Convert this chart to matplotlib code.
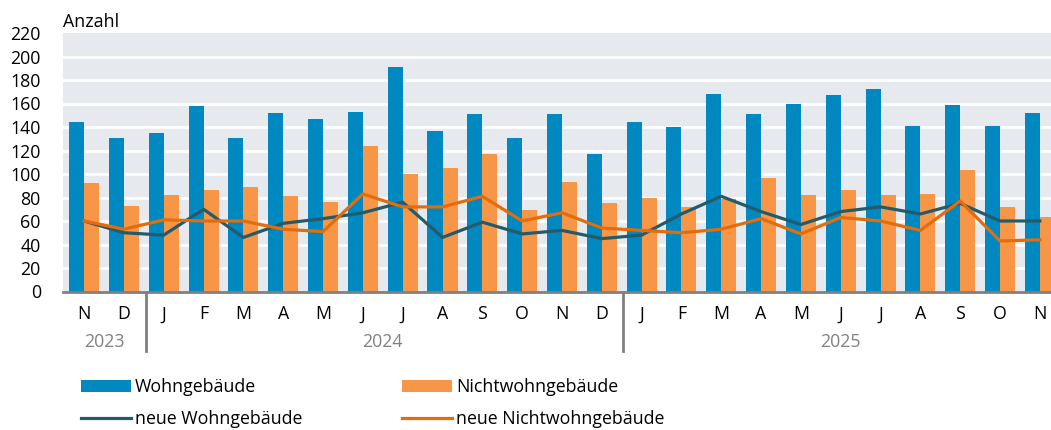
import matplotlib
matplotlib.use('Agg')
import matplotlib.pyplot as plt
import matplotlib.transforms as mtransforms
import numpy as np

plt.rcParams['font.family'] = ['Open Sans', 'DejaVu Sans']

# Daten
monate = ['N', 'D', 'J', 'F', 'M', 'A', 'M', 'J', 'J', 'A', 'S', 'O', 'N', 'D',
          'J', 'F', 'M', 'A', 'M', 'J', 'J', 'A', 'S', 'O', 'N']
jahre = ['2023', '2024', '2025']
jahr_start = [0, 2, 14]
jahr_ende = [1, 13, 24]

wohngebaeude = [144, 131, 135, 158, 131, 152, 147, 153, 191, 137, 151, 131, 151, 117,
                144, 140, 168, 151, 160, 167, 172, 141, 159, 141, 152]
nichtwohngebaeude = [92, 73, 82, 86, 89, 81, 76, 124, 100, 105, 117, 69, 93, 75,
                     80, 72, 79, 97, 82, 86, 82, 83, 103, 72, 63]
neue_wohngebaeude = [60, 50, 48, 70, 46, 58, 62, 67, 76, 46, 59, 49, 52, 45,
                     48, 66, 81, 68, 57, 68, 72, 66, 75, 60, 60]
neue_nichtwohngebaeude = [60, 53, 61, 60, 60, 53, 51, 83, 72, 72, 81, 60, 67, 54,
                          52, 50, 53, 62, 49, 63, 60, 52, 77, 43, 44]

blau = '#0088c0'
orange_hell = '#f79646'
teal = '#255a6b'
orange = '#e46c0a'
grau = '#808080'
fs = 12.8

fig = plt.figure(figsize=(10.51, 4.30), dpi=100)
ax = fig.add_axes([63 / 1051, 1 - 291.5 / 430, 1 - 63 / 1051, (291.5 - 33) / 430])
ax.set_facecolor('#e6eaee')

x = np.arange(len(monate))
b = 0.377
ax.bar(x - b / 2, wohngebaeude, width=b, color=blau, label='Wohngebäude', zorder=2)
ax.bar(x + b / 2, nichtwohngebaeude, width=b, color=orange_hell, label='Nichtwohngebäude', zorder=2)
ax.plot(x, neue_wohngebaeude, color=teal, lw=2.3, label='neue Wohngebäude', zorder=3)
ax.plot(x, neue_nichtwohngebaeude, color=orange, lw=2.3, label='neue Nichtwohngebäude', zorder=4)

ax.set_ylim(0, 220)
ax.set_xlim(-0.53, 24.28)
ax.set_yticks(range(0, 221, 20))
ax.set_xticks(x)
ax.set_xticklabels(monate)
ax.tick_params(axis='both', length=0, labelsize=fs)
ax.tick_params(axis='y', pad=16)
ax.tick_params(axis='x', pad=10)
for yv in range(20, 220, 20):
    ax.axhline(yv, color='white', lw=2, zorder=1)
for s in ['top', 'right', 'left']:
    ax.spines[s].set_visible(False)
ax.spines['bottom'].set_color(grau)
ax.spines['bottom'].set_linewidth(2)
ax.spines['bottom'].set_zorder(5)

ax.text(0, 1.024, 'Anzahl', transform=ax.transAxes, fontsize=fs, va='baseline', ha='left')

# Jahre und Trennlinien
trans = mtransforms.blended_transform_factory(ax.transData, ax.transAxes)
for j, a, e in zip(jahre, jahr_start, jahr_ende):
    ax.text((a + e) / 2, -0.195, j, transform=trans, ha='center', va='center',
            fontsize=fs, color=grau)
for sep in [1.55, 13.52]:
    ax.plot([sep, sep], [0, -0.23], transform=trans, color=grau, lw=2, clip_on=False)

h, l = ax.get_legend_handles_labels()
handles = {lab: hd for hd, lab in zip(h, l)}
fig.legend([handles['Wohngebäude'], handles['neue Wohngebäude']],
           ['Wohngebäude', 'neue Wohngebäude'],
           loc='upper left', bbox_to_anchor=(65 / 1051, 1 - 362 / 430),
           frameon=False, fontsize=fs, handlelength=2.8, handletextpad=0.25,
           labelspacing=0.8)
fig.legend([handles['Nichtwohngebäude'], handles['neue Nichtwohngebäude']],
           ['Nichtwohngebäude', 'neue Nichtwohngebäude'],
           loc='upper left', bbox_to_anchor=(386 / 1051, 1 - 362 / 430),
           frameon=False, fontsize=fs, handlelength=2.8, handletextpad=0.25,
           labelspacing=0.8)

fig.savefig('out.png', dpi=100)
